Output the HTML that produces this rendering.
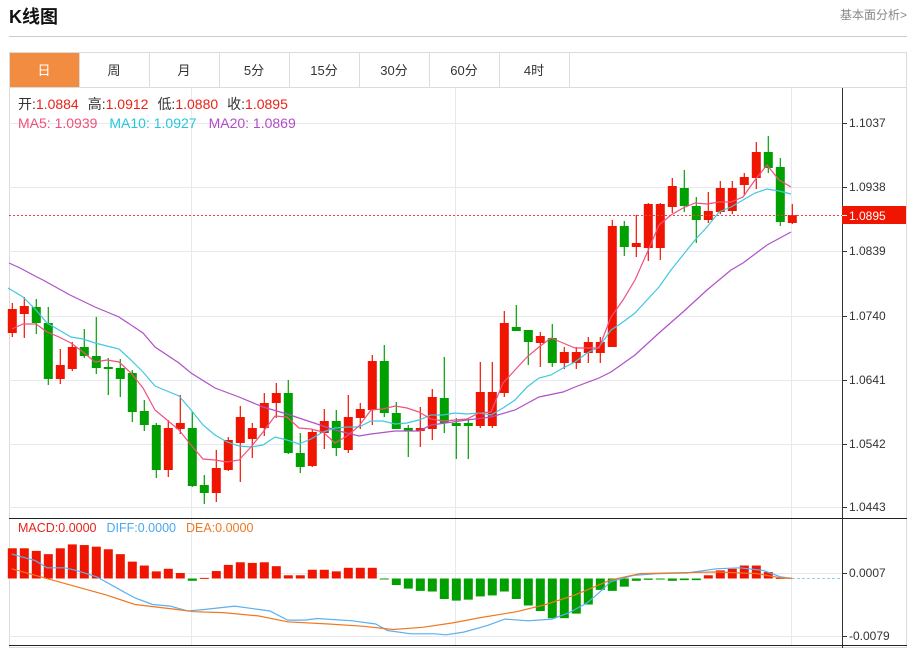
<!DOCTYPE html>
<html><head><meta charset="utf-8"><style>
body{margin:0;background:#fff;width:916px;height:650px;overflow:hidden;font-family:"Liberation Sans","Noto Sans CJK SC",sans-serif;}
</style></head><body>
<svg id="s" width="916" height="650" xmlns="http://www.w3.org/2000/svg" style="position:absolute;left:0;top:0;font-family:'Liberation Sans','Noto Sans CJK SC',sans-serif">
<text x="9" y="23" font-size="18" font-weight="bold" fill="#111">K线图</text>
<text x="907" y="19" font-size="12" fill="#888" text-anchor="end">基本面分析&gt;</text>
<line x1="9" y1="36.5" x2="907" y2="36.5" stroke="#ccc"/>
<rect x="9.5" y="52.5" width="897" height="35" fill="#fff" stroke="#dcdcdc"/>
<rect x="10" y="53" width="69" height="34" fill="#f28c40"/>
<g stroke="#dcdcdc"><line x1="79.5" y1="53" x2="79.5" y2="88"/><line x1="149.5" y1="53" x2="149.5" y2="88"/><line x1="219.5" y1="53" x2="219.5" y2="88"/><line x1="289.5" y1="53" x2="289.5" y2="88"/><line x1="359.5" y1="53" x2="359.5" y2="88"/><line x1="429.5" y1="53" x2="429.5" y2="88"/><line x1="499.5" y1="53" x2="499.5" y2="88"/><line x1="569.5" y1="53" x2="569.5" y2="88"/></g>
<g font-size="13" text-anchor="middle" fill="#333"><text x="44" y="75" fill="#fff">日</text><text x="114" y="75">周</text><text x="184" y="75">月</text><text x="254" y="75">5分</text><text x="324" y="75">15分</text><text x="394" y="75">30分</text><text x="464" y="75">60分</text><text x="534" y="75">4时</text></g>
<rect x="9.5" y="87.5" width="897" height="560" fill="none" stroke="#dcdcdc"/>
<g id="grid" stroke="#e6eaf0"></g>
<g id="c"></g>
<line x1="842.5" y1="88" x2="842.5" y2="648" stroke="#333"/>
<line x1="9" y1="518.5" x2="907" y2="518.5" stroke="#222"/>
<line x1="9" y1="645.5" x2="907" y2="645.5" stroke="#222"/>
<g font-size="14"><text x="18" y="109"><tspan fill="#333">开:</tspan><tspan fill="#e8231a">1.0884</tspan><tspan fill="#333" dx="9">高:</tspan><tspan fill="#e8231a">1.0912</tspan><tspan fill="#333" dx="9">低:</tspan><tspan fill="#e8231a">1.0880</tspan><tspan fill="#333" dx="9">收:</tspan><tspan fill="#e8231a">1.0895</tspan></text>
<text x="18" y="128"><tspan fill="#f0507a">MA5: 1.0939</tspan><tspan fill="#26c6da" dx="12">MA10: 1.0927</tspan><tspan fill="#b04cc8" dx="12">MA20: 1.0869</tspan></text></g>
<g font-size="12.5"><text x="18" y="532"><tspan fill="#e8231a">MACD:0.0000</tspan><tspan fill="#4aa8f0" dx="10">DIFF:0.0000</tspan><tspan fill="#f07820" dx="10">DEA:0.0000</tspan></text></g>
</svg>
<script>
var S=document.getElementById('c'),G=document.getElementById('grid'),NS='http://www.w3.org/2000/svg';
function el(p,t,a,txt){var e=document.createElementNS(NS,t);for(var k in a)e.setAttribute(k,a[k]);if(txt!==undefined)e.textContent=txt;p.appendChild(e);return e;}
var sv=document.getElementById('s');
var ys=[123,187,251,316,380,444,507],lb=['1.1037','1.0938','1.0839','1.0740','1.0641','1.0542','1.0443'];
ys.forEach(function(y,i){el(G,'line',{x1:9,y1:y+.5,x2:842,y2:y+.5});el(sv,'line',{x1:842,y1:y+.5,x2:847,y2:y+.5,stroke:'#333'});el(sv,'text',{x:849,y:y+4,'font-size':12,fill:'#333'},lb[i]);});
[191,455,791].forEach(function(x){el(G,'line',{x1:x+.5,y1:88,x2:x+.5,y2:645});});
el(G,'line',{x1:9,y1:573.5,x2:842,y2:573.5});el(G,'line',{x1:9,y1:636.5,x2:842,y2:636.5});
[[573,'0.0007'],[636,'-0.0079']].forEach(function(a){el(sv,'line',{x1:842,y1:a[0]+.5,x2:847,y2:a[0]+.5,stroke:'#333'});el(sv,'text',{x:849,y:a[0]+4,'font-size':12,fill:'#333'},a[1]);});
var C=[['r',309,333,303,337],['r',306,314,297,338],['g',307,323,299,334],['g',323,379,307,385],['r',365,379,349,384],['r',347,369,342,371],['g',347,356,329,358],['g',356,368,317,374],['g',367,369,358,395],['g',368,379,359,397],['g',373,412,370,422],['g',411,425,400,431],['g',425,470,423,478],['r',428,470,420,477],['r',423,429,395,434],['g',428,486,412,487],['g',485,493,475,504],['r',468,493,450,502],['r',440,470,437,471],['r',417,443,406,482],['r',428,439,423,458],['r',403,428,393,436],['r',393,403,383,418],['g',393,453,380,454],['g',453,467,433,473],['r',432,466,430,467],['r',421,433,409,449],['g',421,448,410,456],['r',417,450,395,453],['r',409,418,403,429],['r',361,410,355,425],['g',361,413,345,417],['g',413,429,402,429],['g',428,431,425,457],['r',428,431,407,447],['r',397,429,389,440],['g',398,423,357,433],['g',423,426,418,459],['g',423,426,418,459],['r',392,426,362,428],['r',392,426,362,428],['r',323,393,311,397],['g',327,331,305,331],['g',330,342,330,365],['r',336,343,332,367],['g',338,363,324,367],['r',352,363,347,369],['r',352,363,347,369],['r',342,353,337,363],['r',342,353,337,363],['r',226,347,220,347],['g',226,247,221,256],['r',243,247,215,257],['r',204,248,203,261],['r',204,248,203,260],['r',186,207,178,213],['g',188,206,170,212],['g',206,220,197,243],['r',211,220,192,223],['r',188,212,181,214],['r',188,211,181,214],['r',177,185,173,195],['r',152,178,142,189],['g',152,168,136,173],['g',167,222,158,226],['r',215,223,204,224]];
C.forEach(function(c,i){var x=12.3+i*12,col=c[0]=='r'?'#f01500':'#00a000';el(S,'line',{x1:x,y1:c[3],x2:x,y2:c[4],stroke:col,'stroke-width':1.2});el(S,'rect',{x:x-4.5,y:c[1],width:9,height:Math.max(2,c[2]-c[1]),fill:col});});
function pl(p,col,w){el(S,'polyline',{points:p,fill:'none',stroke:col,'stroke-width':w||1.2});}
pl('9,263 20,268 35,276 43,280 70,295 95,307 119,317 143,333 155,347 179,363 191,373 215,388 239,397 263,407 287,414 311,422 335,430 359,436 371,434 395,431 419,431 431,425 467,420 491,417 515,410 539,397 563,392 575,387 599,378 611,372 635,355 659,333 683,312 707,290 731,270 743,263 767,245 791,232','#b050c8');
pl('8,288 23,297 36,310 47,323 59,330 71,337 83,339 95,343 107,346 119,349 131,360 143,372 155,386 167,391 179,396 191,410 203,425 215,435 227,442 239,446 251,447 263,445 275,437 287,440 299,444 311,439 323,432 335,428 347,427 359,427 371,421 383,421 395,424 407,423 419,420 431,415 443,415 455,413 467,414 479,413 491,415 503,408 515,400 527,387 539,378 551,375 563,368 575,362 587,353 599,347 611,330 623,322 635,313 647,300 659,287 671,270 683,255 695,240 707,227 719,212 731,207 743,200 755,193 767,189 779,191 791,194','#40c8e0');
pl('12,329 23,324 36,324 47,332 59,337 71,343 83,352 95,362 107,360 119,362 131,373 143,388 155,410 167,420 179,430 191,445 203,459 215,460 227,462 239,460 251,447 263,432 275,416 287,417 299,428 311,429 323,432 335,443 347,436 359,426 371,410 383,409 395,406 407,408 419,412 431,419 443,421 455,420 467,419 479,413 491,412 503,383 515,370 527,357 539,347 551,338 563,343 575,348 587,348 599,348 611,317 623,300 635,280 647,253 659,225 671,215 683,208 695,203 707,204 719,202 731,202 743,197 755,180 767,165 779,180 791,187','#f05080');
el(S,'line',{x1:9,y1:215.5,x2:842,y2:215.5,stroke:'#f04040','stroke-dasharray':'2,2'});
el(sv,'rect',{x:842,y:206,width:64,height:18,fill:'#f01500'});
el(sv,'line',{x1:842,y1:215.5,x2:847,y2:215.5,stroke:'#fff'});
el(sv,'text',{x:849,y:220,'font-size':12,fill:'#fff'},'1.0895');
var Z=578.5;function vy(v){return 573+(v-188)*0.325;}
var red1=[112,112,120,130,112,100,102,107,115,130,153,165,183,175,188];
var reds2=[203,182,163,155,157,155,167,195,195,178,178,183,172,172,172];
var greens=[208,225,236,243,245,268,273,270,260,257,245,268,288,305,327,327,313,285,240,243,230,212,209,207,212,210,210];
var reds3=[195,180,175,165,165,185,203];
var bars=[];red1.forEach(function(v){bars.push(['r',v]);});bars.push(['g',212]);reds2.forEach(function(v){bars.push(['r',v]);});greens.forEach(function(v){bars.push(['g',v]);});reds3.forEach(function(v){bars.push(['r',v]);});
bars.forEach(function(b,i){var x=12.3+i*12,y=vy(b[1]);if(b[0]=='r'){el(S,'rect',{x:x-4.5,y:y,width:9,height:Math.max(1,Z-y),fill:'#f01500'});}else{el(S,'rect',{x:x-4.5,y:Z,width:9,height:Math.max(1,y-Z),fill:'#00a000'});}});
el(S,'line',{x1:792,y1:Z,x2:842,y2:Z,stroke:'#9cd0f0','stroke-dasharray':'3,2'});
function ml(pts,col){var s=pts.map(function(p){return (p[0]*0.587).toFixed(1)+','+vy(p[1]).toFixed(1);}).join(' ');pl(s,col,1.2);}
ml([[20,130],[60,150],[80,172],[110,172],[130,180],[165,200],[200,235],[230,265],[260,285],[290,290],[320,305],[350,300],[400,290],[440,300],[460,305],[490,333],[520,333],[540,328],[600,335],[640,345],[660,365],[700,375],[740,375],[760,378],[790,370],[830,350],[860,330],[900,335],[940,330],[970,310],[1000,280],[1020,250],[1040,215],[1080,195],[1120,190],[1170,188],[1220,175],[1260,172],[1300,180],[1330,200],[1350,205]],'#5ab0f0');
ml([[20,175],[60,195],[100,215],[140,235],[180,255],[230,285],[300,300],[330,307],[380,310],[440,320],[490,338],[560,345],[620,352],[670,362],[720,355],[770,342],[820,325],[880,307],[930,285],[980,255],[1040,210],[1090,190],[1160,187],[1220,185],[1290,190],[1330,203],[1350,205]],'#f07820');
</script>
</body></html>
